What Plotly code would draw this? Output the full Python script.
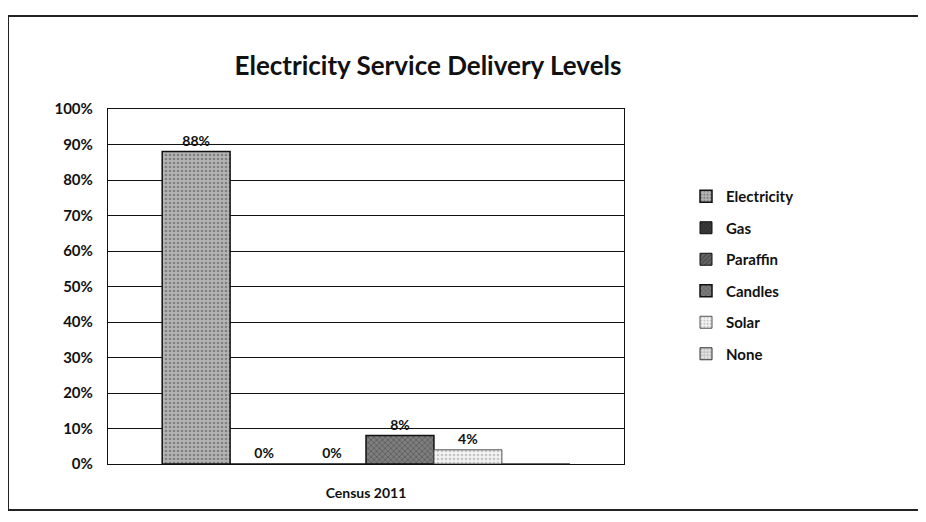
import plotly.graph_objects as go

categories = ["Census 2011"]
series_names = ["Electricity", "Gas", "Paraffin", "Candles", "Solar", "None"]
series_values = [88, 0, 0, 8, 4, 0]
value_labels = ["88%", "0%", "0%", "8%", "4%", ""]
y_ticks = [0, 10, 20, 30, 40, 50, 60, 70, 80, 90, 100]
y_tick_labels = ["0%", "10%", "20%", "30%", "40%", "50%", "60%", "70%", "80%", "90%", "100%"]

styles = {
    "Electricity": dict(bg="#b4b4b4", fg="#4a4a4a", shape=".", line="#111111", lw=1.5),
    "Gas": dict(bg="#3a3a3a", fg="#111111", shape="x", line="#111111", lw=1.0),
    "Paraffin": dict(bg="#666666", fg="#222222", shape="/", line="#111111", lw=1.0),
    "Candles": dict(bg="#7e7e7e", fg="#333333", shape="x", line="#111111", lw=1.5),
    "Solar": dict(bg="#f2f2f2", fg="#999999", shape=".", line="#555555", lw=1.0),
    "None": dict(bg="#e6e6e6", fg="#777777", shape="+", line="#333333", lw=1.0),
}

FONT = "Lato"
OFF = 8  # page body margin offset
fig = go.Figure()
for name, val, lab in zip(series_names, series_values, value_labels):
    s = styles[name]
    fig.add_trace(go.Bar(
        x=categories, y=[val], name=name, legendgroup=name,
        text=[lab], textposition="outside", cliponaxis=False,
        textfont=dict(family=FONT, size=14, color="#111111", weight="bold"),
        marker=dict(color=s["bg"], line=dict(color=s["line"], width=s["lw"]),
                    pattern=dict(shape=s["shape"], fgcolor=s["fg"], bgcolor=s["bg"],
                                 size=4, solidity=0.35)),
    ))

fig.update_layout(
    width=926, height=522,
    paper_bgcolor="white", plot_bgcolor="white",
    margin=dict(l=108 - OFF, r=302 + OFF, t=109 - OFF, b=58 + OFF, autoexpand=False),
    barmode="group", bargap=0.21, bargroupgap=0,
    font=dict(family=FONT, color="#111111"),
    title=dict(text="Electricity Service Delivery Levels", x=(428 - OFF) / 926, xanchor="center",
               y=1 - (66 - OFF) / 522, yanchor="middle",
               font=dict(family=FONT, size=26, color="#111111", weight="bold")),
    showlegend=True,
    legend=dict(x=(686 - 108) / 516, xanchor="left", y=(464 - 180) / 355, yanchor="top",
                traceorder="grouped", tracegroupgap=9,
                font=dict(family=FONT, size=15, color="#111111", weight="bold"),
                itemwidth=30, bgcolor="rgba(0,0,0,0)"),
)
fig.update_yaxes(range=[0, 100], tickvals=y_ticks, ticktext=y_tick_labels,
                 showgrid=True, gridcolor="#111111", gridwidth=1.3,
                 showline=True, linecolor="#111111", linewidth=1.3, mirror=True,
                 ticks="", ticklabelstandoff=11, automargin=False,
                 tickfont=dict(family=FONT, size=15, color="#111111", weight="bold"),
                 zeroline=False)
fig.update_xaxes(showline=True, linecolor="#111111", linewidth=1.3, mirror=True,
                 ticks="", ticklabelstandoff=16, automargin=False,
                 tickfont=dict(family=FONT, size=14, color="#111111", weight="bold"))

fig.add_shape(type="rect", xref="paper", yref="paper",
              x0=(8 - 108) / 516, x1=(940 - 108) / 516,
              y0=(464 - 510) / 355, y1=(464 - 16) / 355,
              line=dict(color="#222222", width=2), fillcolor="rgba(0,0,0,0)", layer="below")

fig.write_html("out.html")
